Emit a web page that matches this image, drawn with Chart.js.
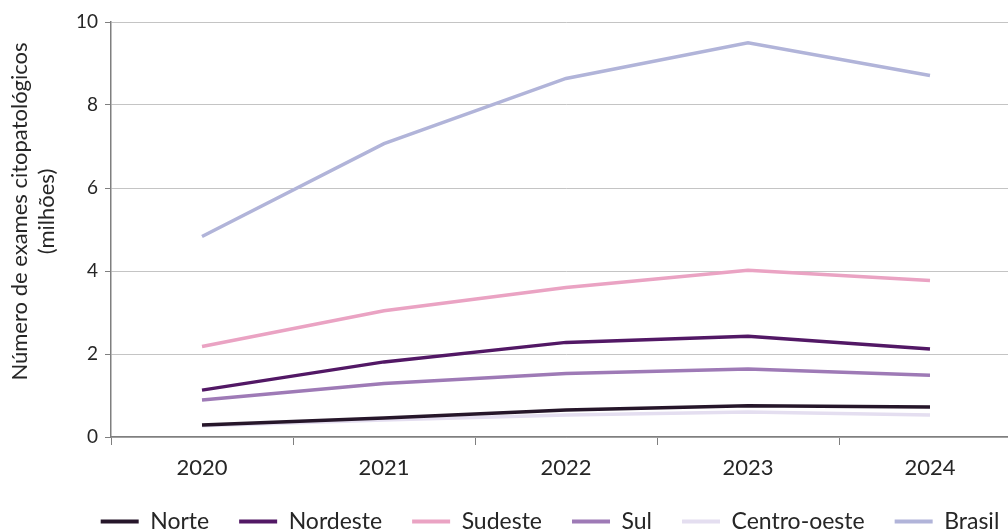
<!DOCTYPE html>
<html lang="pt">
<head>
<meta charset="utf-8">
<script src="https://cdn.jsdelivr.net/npm/chart.js@4.4.1/dist/chart.umd.min.js"></script>
<style>
  html, body { margin: 0; padding: 0; background: #ffffff; overflow: hidden; }
  #wrap { width: 1100px; height: 543px; }
</style>
</head>
<body>
<div id="wrap"><canvas id="examChart" width="1100" height="543"></canvas></div>
<script>
// Exames citopatológicos por região (milhões)
const anos = ['2020', '2021', '2022', '2023', '2024'];
const norte = [0.29, 0.46, 0.65, 0.75, 0.72];
const nordeste = [1.13, 1.81, 2.28, 2.43, 2.12];
const sudeste = [2.18, 3.04, 3.60, 4.02, 3.77];
const sul = [0.89, 1.29, 1.53, 1.64, 1.49];
const centroOeste = [0.27, 0.41, 0.53, 0.60, 0.53];
const brasil = [4.83, 7.07, 8.64, 9.50, 8.71];
const yTicks = [0, 2, 4, 6, 8, 10];

const tituloY = ['Número de exames citopatológicos', '(milhões)'];
const corTexto = '#262626';
const corEixo = '#7f7f7f';

function serie(label, data, cor) {
    return {
        label: label,
        data: data,
        borderColor: cor,
        backgroundColor: cor,
        borderWidth: 3.5,
        pointRadius: 0,
        tension: 0,
        fill: false
    };
}

// Título do eixo Y desenhado à mão (fica um pouco acima do centro)
const tituloEixoY = {
    id: 'tituloEixoY',
    afterDraw(chart) {
        const ctx = chart.ctx;
        const area = chart.chartArea;
        ctx.save();
        ctx.translate(20, (area.top + area.bottom) / 2 - 18);
        ctx.rotate(-Math.PI / 2);
        ctx.font = '22px Lato';
        ctx.fillStyle = corTexto;
        ctx.textAlign = 'center';
        ctx.textBaseline = 'middle';
        ctx.fillText(tituloY[0], 0, 0);
        ctx.fillText(tituloY[1], 0, 27);
        ctx.restore();
    }
};

const ctx = document.getElementById('examChart').getContext('2d');
const examChart = new Chart(ctx, {
    type: 'line',
    data: {
        labels: anos,
        datasets: [
            serie('Norte', norte, '#26162a'),
            serie('Nordeste', nordeste, '#521865'),
            serie('Sudeste', sudeste, '#eaa3c3'),
            serie('Sul', sul, '#9e7ab6'),
            serie('Centro-oeste', centroOeste, '#e4def0'),
            serie('Brasil', brasil, '#b1b4d9')
        ]
    },
    options: {
        responsive: false,
        animation: false,
        layout: {
            padding: { top: 22, left: 0, right: 0, bottom: 0 }
        },
        plugins: {
            tooltip: { enabled: false },
            legend: {
                position: 'bottom',
                labels: {
                    color: corTexto,
                    font: { family: 'Lato', size: 23 },
                    boxWidth: 38,
                    boxHeight: 4,
                    padding: 30,
                    generateLabels(chart) {
                        const itens = Chart.defaults.plugins.legend.labels.generateLabels(chart);
                        itens.forEach(it => {
                            it.fillStyle = it.strokeStyle;
                            it.lineWidth = 0;
                        });
                        return itens;
                    }
                }
            }
        },
        scales: {
            x: {
                offset: true,
                grid: {
                    offset: true,
                    drawOnChartArea: false,
                    drawTicks: true,
                    tickLength: 8,
                    color: corEixo,
                    lineWidth: 1
                },
                border: { color: corEixo, width: 1.5 },
                ticks: {
                    color: corTexto,
                    font: { family: 'Lato', size: 22 },
                    padding: 10
                },
                afterFit(scale) { scale.height = 43; }
            },
            y: {
                min: 0,
                max: 10,
                afterBuildTicks(scale) {
                    scale.ticks = yTicks.map(v => ({ value: v }));
                },
                grid: {
                    color: '#c4c4c4',
                    lineWidth: 1,
                    tickLength: 6,
                    tickColor: corEixo
                },
                border: { color: corEixo, width: 1.5 },
                ticks: {
                    color: corTexto,
                    font: { family: 'Lato', size: 19 },
                    padding: 7
                },
                afterFit(scale) { scale.width = 111; }
            },
            // eixo vazio à direita, só para reservar espaço
            y2: {
                position: 'right',
                display: true,
                grid: { display: false, drawTicks: false },
                border: { display: false },
                ticks: { display: false },
                afterFit(scale) { scale.width = 79; }
            }
        }
    },
    plugins: [tituloEixoY]
});
</script>
</body>
</html>
